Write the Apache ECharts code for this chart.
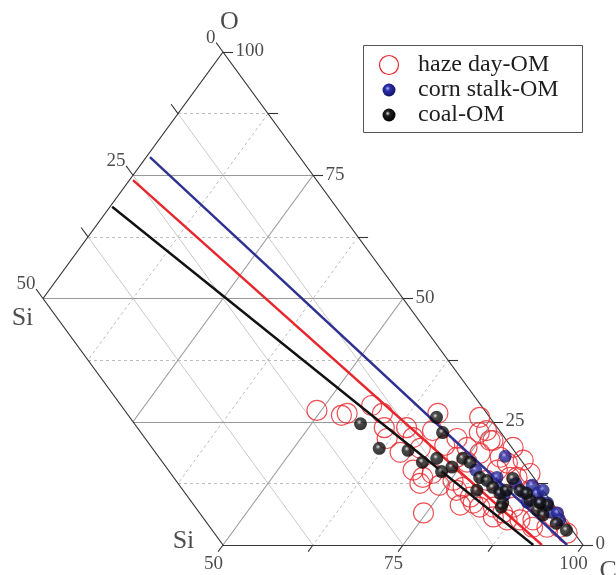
<!DOCTYPE html>
<html><head><meta charset="utf-8">
<script src="https://cdn.jsdelivr.net/npm/echarts@6/dist/echarts.min.js"></script>
<style>html,body{margin:0;padding:0;background:#fff}#main{width:616px;height:575px}</style>
</head><body><div id="main"></div>
<script>
// ---- data: [C %, O %]  (Si = 100 - C - O) ----
const hazeDayOM = [
 [49.4,27.3],[53.3,26.3],[53.9,26.7],[56.5,28.3],[58.8,26.7],[60.5,23.8],[62.0,21.6],[63.6,23.8],
 [65.5,21.8],[67.5,23.2],[66.5,26.7],[72.7,25.9],[75.0,23.2],[76.9,21.2],[74.0,19.8],[73.6,17.8],
 [76.4,18.6],[79.6,17.8],[68.8,15.2],[70.9,13.7],[71.8,14.5],[71.1,12.5],[74.6,6.5],[75.4,13.1],
 [77.5,11.7],[79.5,9.7],[81.8,7.7],[83.7,7.7],[85.6,6.5],[86.5,7.7],[88.7,5.1],[90.5,5.1],
 [93.2,3.6],[80.1,13.1],[80.5,15.2],[81.2,16.6],[84.0,13.7],[87.1,11.1],[90.2,7.7],[93.1,5.7],
 [95.0,3.6],[96.6,2.4],[80.4,19.8],[83.1,17.2],[65.2,18.8],[67.6,19.6],[71.7,21.6],[74.2,22.8],
 [75.5,16.8],[76.5,21.2],[83.0,13.7],[85.4,14.5],[76.9,11.1],[80.5,8.5],[84.7,5.7],[86.9,5.1],
 [91.2,3.6],[78.9,8.1],[70.7,20.2],[74.0,12.1]
];
const cornStalkOM = [
 [80.2,18.0],[77.5,15.2],[86.9,12.1],[88.4,10.5],[86.3,10.7],[82.9,11.1],[84.0,10.1],[87.9,8.7],
 [89.7,8.7],[90.8,8.5],[92.1,6.7],[93.2,6.5],[81.2,13.7],[88.9,11.1],[94.2,5.1],[84.4,12.5]
];
const coalOM = [
 [56.8,24.6],[61.9,19.6],[66.7,25.9],[69.1,22.8],[66.1,19.2],[69.3,16.8],[70.9,17.6],[73.9,15.8],
 [72.9,14.9],[74.5,17.6],[75.9,16.8],[78.8,13.7],[80.1,13.1],[79.7,11.1],[81.6,11.7],[83.2,10.5],
 [83.5,13.5],[85.7,11.1],[84.6,8.5],[88.1,9.1],[90.1,7.1],[91.0,8.1],[91.4,6.1],[94.1,4.4],
 [96.2,3.0],[83.8,11.1],[86.9,10.5],[89.8,8.5],[84.8,7.7]
];
// fitted lines: start and end, [C, O]
const lineHaze = [[0.5,74.0],[94.3,0]];
const lineCorn = [[0.5,78.7],[97.8,0]];
const lineCoal = [[0.3,68.6],[93.1,0]];
// tick label values
const oLabels = [0,25,50,75,100];   // right edge (O)
const siLabels = [0,25,50];         // upper-left edge (Si)
const cLabels = [50,75,100];        // bottom edge (C)
const majorGrid = [25,50,75];
const minorGrid = [12.5,37.5,62.5,87.5];
const siGrid = [12.5,25,37.5];
const tickSteps = [0,12.5,25,37.5,50,62.5,75,87.5,100];

// ternary (C,O) -> cartesian data coords
function tp(c,o){ return [c + o/2, o]; }
function seg(a,b){ return {coords:[tp(a[0],a[1]), tp(b[0],b[1])]}; }

const FONT = '"Liberation Serif","Times New Roman",serif';

// grid lines
const majorSegs = [], minorSegs = [], siSegs = [];
majorGrid.forEach(k=>{
  majorSegs.push(seg([Math.max(0,50-k),k],[100-k,k]));         // const O
  majorSegs.push(seg([k,100-k],[k,Math.max(0,50-k)]));         // const C
});
minorGrid.forEach(k=>{
  minorSegs.push(seg([Math.max(0,50-k),k],[100-k,k]));
  minorSegs.push(seg([k,100-k],[k,Math.max(0,50-k)]));
});
siGrid.forEach(k=>{ siSegs.push(seg([0,100-k],[100-k,0])); });

// frame
const frameSegs = [seg([0,100],[0,50]), seg([0,50],[50,0]), seg([50,0],[100,0]), seg([100,0],[0,100])];
// ticks
const tickSegs = [];
tickSteps.forEach(v=>{
  tickSegs.push(seg([100-v,v],[100-v+1.4,v]));           // right edge, O = v
  if (v<=50) tickSegs.push(seg([0,100-v],[-1.9,100-v+1.9])); // upper-left edge, Si = v
  if (v>=50) tickSegs.push(seg([v,0],[v,-1.35]));          // bottom edge, C = v
});

// text labels
function lab(pt, text, opt){ return {value: pt, label: Object.assign({show:true, formatter:text, fontFamily:FONT, fontSize:19, color:'#1e1e1e'}, opt)}; }
const labelData = [];
oLabels.forEach(v=>labelData.push(lab(tp(100-v,v), String(v), {position:[13,0], align:'left', verticalAlign:'middle'})));
siLabels.forEach(v=>labelData.push(lab(tp(0,100-v), String(v), {position:[-7,-4], align:'right', verticalAlign:'bottom'})));
cLabels.forEach(v=>labelData.push(lab(tp(v,0), String(v), {position:[-9,20], align:'center', verticalAlign:'middle'})));
labelData.push(lab(tp(0,100), 'O', {position:[7,-29], align:'center', verticalAlign:'middle', fontSize:26}));
labelData.push(lab(tp(0,50), 'Si', {position:[-20,20], align:'center', verticalAlign:'middle', fontSize:26}));
labelData.push(lab(tp(50,0), 'Si', {position:[-39,-3], align:'center', verticalAlign:'middle', fontSize:26}));
labelData.push(lab(tp(100,0), 'C', {position:[17,27], align:'left', verticalAlign:'middle', fontSize:26}));

function ball(hi, mid, dark){
  return {type:'radial', x:0.4, y:0.38, r:0.68, colorStops:[{offset:0,color:hi},{offset:0.28,color:mid},{offset:1,color:dark}]};
}
const blackBall = ball('#dcdcdc','#1c1c1c','#000');
const blueBall = ball('#aab2ff','#2c30a8','#0e105e');
const RED = '#e8262d', BLUE = '#2e3192';

const ls = (color,width,type)=>({color, width, type: type||'solid', opacity:1});

const option = {
  animation:false,
  backgroundColor:'#fff',
  grid:{left:43, top:52, width:540, height:493},
  xAxis:{type:'value', min:25, max:100, show:false},
  yAxis:{type:'value', min:0, max:100, show:false},
  series:[
    {type:'lines', coordinateSystem:'cartesian2d', clip:false, z:1, lineStyle:ls('#cbcbcb',1), data:siSegs},
    {type:'lines', coordinateSystem:'cartesian2d', clip:false, z:1, lineStyle:ls('#bdbdbd',1,[3,3]), data:minorSegs},
    {type:'lines', coordinateSystem:'cartesian2d', clip:false, z:2, lineStyle:ls('#999',1.1), data:majorSegs},
    {type:'lines', coordinateSystem:'cartesian2d', clip:false, z:3, lineStyle:ls('#333',1.2), data:frameSegs},
    {type:'lines', coordinateSystem:'cartesian2d', clip:false, z:3, lineStyle:ls('#333',1.1), data:tickSegs},
    {name:'haze day-OM', type:'scatter', z:4, symbol:'circle', symbolSize:20, clip:false,
      itemStyle:{color:'rgba(255,255,255,0)', borderColor:RED, borderWidth:1.2},
      data: hazeDayOM.map(d=>tp(d[0],d[1]))},
    {type:'lines', coordinateSystem:'cartesian2d', clip:false, z:5, lineStyle:ls('#111',2.4), data:[seg(lineCoal[0],lineCoal[1])]},
    {type:'lines', coordinateSystem:'cartesian2d', clip:false, z:5, lineStyle:ls(RED,2.4), data:[seg(lineHaze[0],lineHaze[1])]},
    {type:'lines', coordinateSystem:'cartesian2d', clip:false, z:5, lineStyle:ls(BLUE,2.4), data:[seg(lineCorn[0],lineCorn[1])]},
    {name:'corn stalk-OM', type:'scatter', z:6, symbol:'circle', symbolSize:13, clip:false,
      itemStyle:{color:blueBall}, data: cornStalkOM.map(d=>tp(d[0],d[1]))},
    {name:'coal-OM', type:'scatter', z:7, symbol:'circle', symbolSize:13, clip:false,
      itemStyle:{color:blackBall}, data: coalOM.map(d=>tp(d[0],d[1]))},
    {type:'scatter', z:8, symbolSize:1, clip:false, silent:true, itemStyle:{color:'rgba(0,0,0,0)'}, data:labelData}
  ],
  graphic:[
    {type:'rect', left:363, top:45, shape:{width:219, height:87}, style:{fill:'#fff', stroke:'#555', lineWidth:1}, z:20},
    {type:'circle', shape:{cx:389, cy:65, r:9.5}, style:{fill:'none', stroke:RED, lineWidth:1.2}, z:21},
    {type:'circle', shape:{cx:389, cy:90, r:6.5}, style:{fill:blueBall}, z:21},
    {type:'circle', shape:{cx:389, cy:115, r:6.5}, style:{fill:blackBall}, z:21},
    {type:'text', x:418, y:65, style:{text:'haze day-OM', font:'24px '+FONT, fill:'#1e1e1e', textVerticalAlign:'middle', verticalAlign:'middle'}, z:21},
    {type:'text', x:418, y:90, style:{text:'corn stalk-OM', font:'24px '+FONT, fill:'#1e1e1e', textVerticalAlign:'middle', verticalAlign:'middle'}, z:21},
    {type:'text', x:418, y:115, style:{text:'coal-OM', font:'24px '+FONT, fill:'#1e1e1e', textVerticalAlign:'middle', verticalAlign:'middle'}, z:21}
  ]
};
const chart = echarts.init(document.getElementById('main'));
chart.setOption(option);
</script></body></html>
